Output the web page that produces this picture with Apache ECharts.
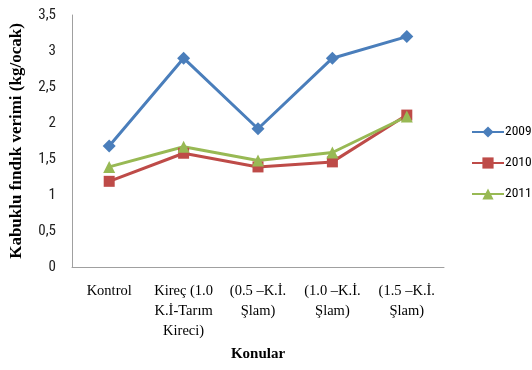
<!DOCTYPE html>
<html><head><meta charset="utf-8">
<script src="https://cdn.jsdelivr.net/npm/echarts@6/dist/echarts.min.js"></script>
<style>html,body{margin:0;padding:0;background:#fff}#c{width:532px;height:370px}</style>
</head><body><div id="c"></div>
<script>
const categories = ["Kontrol", "Kireç (1.0\nK.İ-Tarım\nKireci)", "(0.5 –K.İ.\nŞlam)", "(1.0 –K.İ.\nŞlam)", "(1.5 –K.İ.\nŞlam)"];
const s2009 = [1.68, 2.9, 1.92, 2.9, 3.2];
const s2010 = [1.19, 1.58, 1.39, 1.46, 2.11];
const s2011 = [1.39, 1.67, 1.48, 1.59, 2.09];
const yTicks = [0, 0.5, 1, 1.5, 2, 2.5, 3, 3.5];

const chart = echarts.init(document.getElementById('c'));
const serif = '"Liberation Serif", "DejaVu Serif", serif';
const narrow = '"Liberation Sans Narrow", "Roboto Condensed", "Open Sans", sans-serif';
function ser(name, data, color, symbol, size) {
  return {name, type: 'line', data, symbol, symbolSize: size,
    lineStyle: {color, width: 3}, itemStyle: {color}, emphasis: {disabled: true}};
}
chart.setOption({
  animation: false,
  grid: {left: 72, right: 88, top: 15, bottom: 103, outerBoundsMode: 'none', containLabel: false},
  legend: {
    orient: 'vertical', left: 466, top: 120, itemWidth: 32, itemHeight: 14, itemGap: 17,
    textStyle: {fontFamily: narrow, fontSize: 13.5, color: '#000', padding: [0,0,0,-4]},
    data: ['2009', '2010', '2011']
  },
  xAxis: {
    type: 'category', data: categories, boundaryGap: true,
    name: 'Konular', nameLocation: 'middle', nameGap: 80,
    nameTextStyle: {fontFamily: serif, fontSize: 15, fontWeight: 'bold', color: '#000'},
    axisLine: {lineStyle: {color: '#a0a0a0', width: 1}},
    axisTick: {show: false},
    axisLabel: {fontFamily: serif, fontSize: 14.5, color: '#000', lineHeight: 20, margin: 14, interval: 0}
  },
  yAxis: {
    type: 'value', min: 0, max: 3.5, interval: 0.5,
    name: 'Kabuklu fındık verimi (kg/ocak)', nameLocation: 'middle', nameGap: 47, nameRotate: 90,
    nameTextStyle: {fontFamily: serif, fontSize: 17, fontWeight: 'bold', color: '#000'},
    axisLine: {show: true, lineStyle: {color: '#a0a0a0', width: 1}},
    axisTick: {show: false},
    splitLine: {show: false},
    axisLabel: {fontFamily: narrow, fontSize: 15, color: '#222', margin: 16,
      formatter: v => { const t = yTicks.find(x => Math.abs(x - v) < 1e-9); return t === undefined ? '' : String(t).replace('.', ','); }}
  },
  series: [
    ser('2009', s2009, '#4A7EBB', 'diamond', 13),
    ser('2010', s2010, '#BE4B48', 'rect', 11),
    ser('2011', s2011, '#98B954', 'triangle', 12)
  ]
});
</script></body></html>
